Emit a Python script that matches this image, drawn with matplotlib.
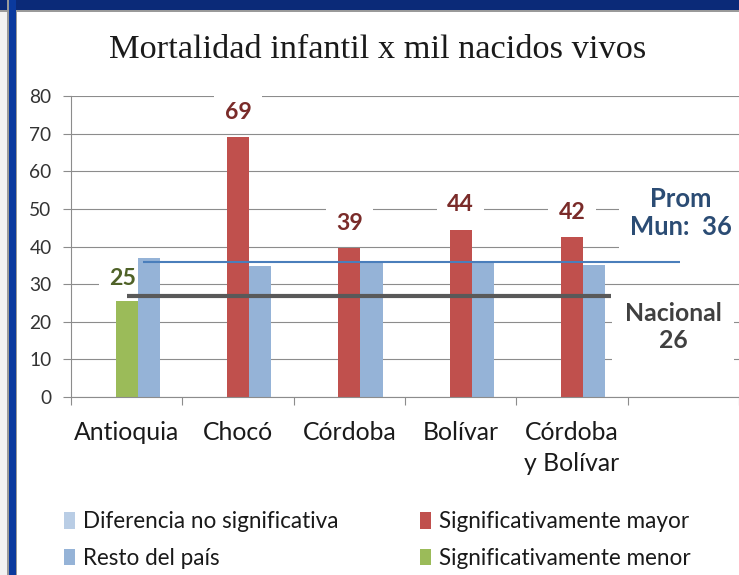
import matplotlib
matplotlib.use("Agg")
import matplotlib.pyplot as plt
from matplotlib.patches import Patch, Rectangle

# ---------------- data ----------------
categories = ["Antioquia", "Chocó", "Córdoba", "Bolívar", "Córdoba\ny Bolívar", ""]
dept_values = [25.5, 69.0, 39.5, 44.5, 42.4]          # departamento
dept_signif = ["menor", "mayor", "mayor", "mayor", "mayor"]
dept_labels = ["25", "69", "39", "44", "42"]
resto_values = [37.0, 34.8, 35.8, 35.5, 35.0]        # resto del país
prom_mun_value = 35.8
prom_mun_label = "Prom\nMun:  36"
nacional_value = 26.8
nacional_label = "Nacional\n26"
legend_labels = ["Diferencia no significativa", "Resto del país",
                 "Significativamente mayor", "Significativamente menor"]
yticks = [0, 10, 20, 30, 40, 50, 60, 70, 80]
title = "Mortalidad infantil x mil nacidos vivos"

# ---------------- style ----------------
C_RED = "#C0504D"
C_GREEN = "#9BBB59"
C_BLUE = "#95B3D7"
C_LBLUE = "#B9CDE5"
C_LINE_BLUE = "#4A7EBB"
C_LINE_GRAY = "#595959"
C_GRID = "#8C8C8C"
sig_colors = {"mayor": C_RED, "menor": C_GREEN, "nosig": C_LBLUE}
lab_colors = {"mayor": "#7A2B29", "menor": "#4F6228", "nosig": "#404040"}
SANS = ["Lato", "DejaVu Sans"]
SERIF = ["Liberation Serif", "DejaVu Serif"]

W, H, DPI = 739, 575, 100
fig = plt.figure(figsize=(W / DPI, H / DPI), dpi=DPI)
fig.patch.set_facecolor("white")
renderer = fig.canvas.get_renderer()


def fit(text, target_px, family, weight="normal"):
    t = fig.text(0, 0, text, fontsize=10, family=family, weight=weight)
    w = t.get_window_extent(renderer).width
    t.remove()
    return 10 * target_px / w


fs_title = fit(title, 540, SERIF)
fs_cat = fit("Antioquia", 106, SANS)
fs_ytick = fit("80", 22, SANS)
fs_dlab = fit("69", 27, SANS, "bold")
fs_prom = fit("Mun:  36", 102, SANS, "bold")
fs_nac = fit("Nacional", 97, SANS, "bold")
fs_leg = fit(legend_labels[0], 256, SANS)

# axes placement (pixels -> fraction)
x0, x1 = 71, 739
y_top, y_bot = 96, 397
ax = fig.add_axes([x0 / W, 1 - y_bot / H, (x1 - x0) / W, (y_bot - y_top) / H])
ax.set_facecolor("white")

n = len(categories)
idx = list(range(len(dept_values)))
bw = 0.2
ax.bar(idx, dept_values, width=bw, color=[sig_colors[s] for s in dept_signif],
       zorder=2, linewidth=0)
ax.bar([i + bw for i in idx], resto_values, width=bw, color=C_BLUE, zorder=2,
       linewidth=0)

# reference lines
ax.hlines(nacional_value, 0.0, 4.35, color=C_LINE_GRAY, linewidth=3.0, zorder=4)
ax.hlines(prom_mun_value, 0.15, 4.97, color=C_LINE_BLUE, linewidth=1.5, zorder=4)

ax.set_xlim(-0.5, n - 0.5)
ax.set_ylim(0, 80)
ax.set_yticks(yticks)
ax.set_yticklabels([str(v) for v in yticks], fontsize=fs_ytick, family=SANS,
                   color="#333333")
ax.set_xticks(range(n))
ax.set_xticklabels(categories, fontsize=fs_cat, family=SANS, color="#1a1a1a",
                   linespacing=1.45)
ax.set_xticks([i - 0.5 for i in range(n + 1)], minor=True)
ax.tick_params(axis="x", which="major", length=0, pad=17)
ax.tick_params(axis="x", which="minor", length=6, width=0.8, color=C_GRID)
ax.tick_params(axis="y", length=6, width=0.8, color=C_GRID, pad=8)
ax.yaxis.grid(True, color=C_GRID, linewidth=0.8, zorder=0)
ax.set_axisbelow(True)
for s in ["top", "right"]:
    ax.spines[s].set_visible(False)
for s in ["left", "bottom"]:
    ax.spines[s].set_color(C_GRID)
    ax.spines[s].set_linewidth(0.8)

# data labels (white boxes hide gridlines but stay under bars and lines)
for i, (v, s, lab) in enumerate(zip(dept_values, dept_signif, dept_labels)):
    dx = -3 if s == "menor" else 0
    dy = 16 if s == "menor" else 18
    ax.annotate(lab, xy=(i, v), xytext=(dx, dy), textcoords="offset points",
                ha="center", va="center", fontsize=fs_dlab, fontweight="bold",
                family=SANS, color=lab_colors[s], zorder=1.5,
                bbox=dict(boxstyle="square,pad=0.45", fc="white", ec="none"))

# line labels
fig.text(681 / W, 1 - 213 / H, prom_mun_label, ha="center", va="center",
         fontsize=fs_prom, fontweight="bold", family=SANS, color="#2B4C74",
         linespacing=1.2, multialignment="center", zorder=5,
         bbox=dict(boxstyle="square,pad=0.45", fc="white", ec="none"))
fig.text(673 / W, 1 - 327 / H, nacional_label, ha="center", va="center",
         fontsize=fs_nac, fontweight="bold", family=SANS, color="#404040",
         linespacing=1.25, multialignment="center", zorder=5,
         bbox=dict(boxstyle="square,pad=0.5", fc="white", ec="none"))

# title
fig.text(378 / W, 1 - 50 / H, title, ha="center", va="center",
         fontsize=fs_title, family=SERIF, color="#1a1a1a")

# legend
handles = [Patch(facecolor=C_LBLUE, edgecolor="none"),
           Patch(facecolor=C_BLUE, edgecolor="none"),
           Patch(facecolor=C_RED, edgecolor="none"),
           Patch(facecolor=C_GREEN, edgecolor="none")]
leg = fig.legend(handles, legend_labels, ncol=2, loc="center left",
                 bbox_to_anchor=(64 / W, 1 - 540 / H), frameon=False,
                 prop={"family": SANS, "size": fs_leg},
                 handlelength=0.5, handleheight=0.75, handletextpad=0.35,
                 columnspacing=3.6, labelspacing=0.7, borderpad=0, borderaxespad=0)
for t in leg.get_texts():
    t.set_color("#1a1a1a")

# slide frame: dark blue band on top and left
fig.add_artist(Rectangle((0, 1 - 10 / H), 1, 10 / H, transform=fig.transFigure,
                         facecolor="#0B2A78", edgecolor="none", zorder=10))
fig.add_artist(Rectangle((0, 1 - 12 / H), 1, 2 / H, transform=fig.transFigure,
                         facecolor="#9a9a9a", edgecolor="none", zorder=10))
fig.add_artist(Rectangle((0, 0), 7 / W, 1, transform=fig.transFigure,
                         facecolor="#f2f2f2", edgecolor="none", zorder=9))
fig.add_artist(Rectangle((7 / W, 0), 1.5 / W, 1, transform=fig.transFigure,
                         facecolor="#9a9a9a", edgecolor="none", zorder=10))
fig.add_artist(Rectangle((8.5 / W, 0), 7 / W, 1, transform=fig.transFigure,
                         facecolor="#0B3A9E", edgecolor="none", zorder=10))
fig.add_artist(Rectangle((15.5 / W, 0), 1.5 / W, 1 - 10 / H, transform=fig.transFigure,
                         facecolor="#9a9a9a", edgecolor="none", zorder=10))

fig.savefig("out.png", dpi=DPI, facecolor="white")
